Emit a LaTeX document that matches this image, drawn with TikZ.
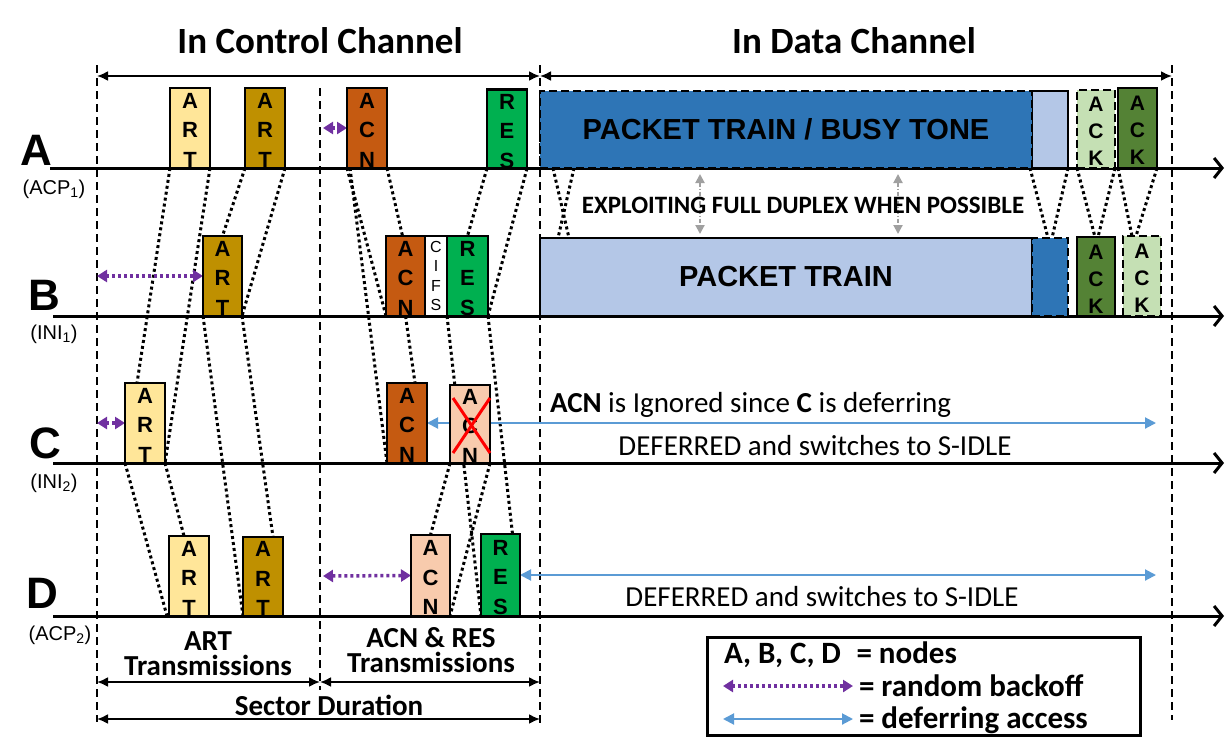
\documentclass[tikz,border=0pt]{standalone}
\usepackage{fontspec}
\setmainfont{Carlito}
\newfontfamily\arialf{Liberation Sans}
\usetikzlibrary{arrows.meta,calc}
\definecolor{artL}{HTML}{FFE699}
\definecolor{artD}{HTML}{BF9000}
\definecolor{acnD}{HTML}{C55A11}
\definecolor{acnL}{HTML}{F8CBAD}
\definecolor{resG}{HTML}{00B050}
\definecolor{ptD}{HTML}{2E75B6}
\definecolor{ptL}{HTML}{B4C7E7}
\definecolor{ackD}{HTML}{548235}
\definecolor{ackL}{HTML}{C5E0B4}
\definecolor{purp}{HTML}{7030A0}
\definecolor{bluA}{HTML}{5B9BD5}
\definecolor{grayA}{HTML}{A0A0A0}
\pgfdeclarelayer{bg}
\pgfsetlayers{bg,main}
\begin{document}
\begin{tikzpicture}[x=1pt,y=-1pt,
  every node/.style={inner sep=0pt,outer sep=0pt},
  tline/.style={line width=3pt,-{Straight Barb[length=8pt,width=20pt]}},
  vdash/.style={line width=2.5pt,dash pattern=on 8pt off 5pt},
  dotl/.style={line width=3pt,dash pattern=on 3pt off 3pt},
  dimarr/.style={line width=2pt,{Latex[length=11pt,width=10pt]}-{Latex[length=11pt,width=10pt]}},
  backoff/.style={purp,line width=3.5pt,dash pattern=on 3pt off 3pt,{Triangle[length=10pt,width=12pt]}-{Triangle[length=10pt,width=12pt]}},
  defer/.style={bluA,line width=2pt,{Triangle[length=11pt,width=11pt]}-{Triangle[length=11pt,width=11pt]}},
  fdarr/.style={grayA,line width=2pt,dash pattern=on 4pt off 2pt on 1pt off 2pt,{Triangle[length=9pt,width=9pt]}-{Triangle[length=9pt,width=9pt]}},
  pbox/.style={draw,line width=2.5pt,minimum width=40pt,minimum height=80pt,align=center,font=\arialf\bfseries\fontsize{22}{29.5}\selectfont},
  cifsbox/.style={draw,line width=2.5pt,minimum width=22pt,minimum height=80pt,align=center,font=\arialf\fontsize{16}{19.3}\selectfont},
  ackbox/.style={draw,line width=2.5pt,minimum width=38pt,minimum height=80pt,align=center,font=\arialf\bfseries\fontsize{21}{27}\selectfont},
  dbox/.style={dash pattern=on 8pt off 4pt},
  rowlab/.style={font=\arialf\bfseries\fontsize{44}{44}\selectfont,anchor=base},
  sublab/.style={font=\arialf\fontsize{20}{20}\selectfont},
  title/.style={font=\bfseries\fontsize{37}{37}\selectfont,anchor=base},
  btxt/.style={font=\bfseries\fontsize{29}{25}\selectfont,align=center},
  ntxt/.style={font=\fontsize{29}{29}\selectfont,anchor=base},
  legtxt/.style={font=\bfseries\fontsize{31}{31}\selectfont,anchor=base west}
]
\useasboundingbox (0,0) rectangle (1230,750);

% ---------- boxes: control channel ----------
\node[pbox,fill=artL] (aART1) at (190,128) {\rule{0pt}{19.5pt}A\\R\\T};
\node[pbox,fill=artD] (aART2) at (265,128) {\rule{0pt}{19.5pt}A\\R\\T};
\node[pbox,fill=acnD] (aACN) at (367,128) {\rule{0pt}{19.5pt}A\\C\\N};
\node[pbox,fill=resG,minimum height=78pt] (aRES) at (507,129) {\rule{0pt}{19.5pt}R\\E\\S};

\node[pbox,fill=artD,minimum width=39pt] (bART) at (222.5,276) {\rule{0pt}{19.5pt}A\\R\\T};
\node[pbox,fill=acnD,minimum width=39pt] (bACN) at (405.5,276) {\rule{0pt}{19.5pt}A\\C\\N};
\node[cifsbox,fill=white] (bCIFS) at (436,276) {C\\I\\F\\S};
\node[pbox,fill=resG,minimum width=41pt] (bRES) at (467.5,276) {\rule{0pt}{19.5pt}R\\E\\S};

\node[pbox,fill=artL] (cART) at (145,423) {\rule{0pt}{19.5pt}A\\R\\T};
\node[pbox,fill=acnD] (cACN) at (407,423) {\rule{0pt}{19.5pt}A\\C\\N};
\node[pbox,fill=acnL,minimum height=78pt] (cACNx) at (470,424) {\rule{0pt}{19.5pt}A\\C\\N};
\draw[red,line width=3pt] ($(cACNx.center)+(-17,-26)$) -- ($(cACNx.center)+(20,29)$);
\draw[red,line width=3pt] ($(cACNx.center)+(20,-26)$) -- ($(cACNx.center)+(-17,29)$);

\node[pbox,fill=artL] (dART1) at (189,576) {\rule{0pt}{19.5pt}A\\R\\T};
\node[pbox,fill=artD,minimum height=79pt] (dART2) at (263,576.5) {\rule{0pt}{19.5pt}A\\R\\T};
\node[pbox,fill=acnL,minimum width=39pt,minimum height=81pt] (dACN) at (430.5,575.5) {\rule{0pt}{19.5pt}A\\C\\N};
\node[pbox,fill=resG,minimum width=39pt,minimum height=82pt] (dRES) at (500.5,575) {\rule{0pt}{19.5pt}R\\E\\S};

% ---------- boxes: data channel ----------
\node[draw,line width=2.5pt,fill=ptL,minimum width=36pt,minimum height=77pt] (aPTl) at (1050,129.5) {};
\node[draw,dbox,line width=2.5pt,fill=ptD,minimum width=492pt,minimum height=77pt,font=\arialf\bfseries\fontsize{29}{29}\selectfont] (aPT) at (786,129.5) {PACKET TRAIN / BUSY TONE};
\node[ackbox,dbox,fill=ackL,minimum height=78pt] (aACK1) at (1096,129) {\rule{0pt}{19pt}A\\C\\K};
\node[ackbox,fill=ackD,minimum width=39pt] (aACK2) at (1137.5,128) {\rule{0pt}{19pt}A\\C\\K};

\node[draw,line width=2.5pt,fill=ptL,minimum width=492pt,minimum height=78pt,font=\arialf\bfseries\fontsize{29}{29}\selectfont] (bPT) at (786,277) {PACKET TRAIN};
\node[draw,dbox,line width=2.5pt,fill=ptD,minimum width=36pt,minimum height=78pt] (bPTd) at (1050,277) {};
\node[ackbox,fill=ackD,minimum height=79pt] (bACK1) at (1096,276.5) {\rule{0pt}{19pt}A\\C\\K};
\node[ackbox,dbox,fill=ackL] (bACK2) at (1142,276) {\rule{0pt}{19pt}A\\C\\K};

% ---------- labels ----------
\node[rowlab] (labA) at (36,165) {A};
\node[sublab] (subA) at (54,189) {(ACP\textsubscript{1})};
\node[rowlab] (labB) at (44,310) {B};
\node[sublab] (subB) at (54,334) {(INI\textsubscript{1})};
\node[rowlab] (labC) at (45,458) {C};
\node[sublab] (subC) at (54,483) {(INI\textsubscript{2})};
\node[rowlab] (labD) at (42,608) {D};
\node[sublab] (subD) at (60,635) {(ACP\textsubscript{2})};

\node[title] (tCtrl) at (320,53) {In Control Channel};
\node[title] (tData) at (854,53) {In Data Channel};

\node[font=\bfseries\fontsize{25}{25}\selectfont] (fdtxt) at (803,205) {EXPLOITING FULL DUPLEX WHEN POSSIBLE};

\node[ntxt,anchor=base west] (ignTxt) at (550,412) {\textbf{ACN} is Ignored since \textbf{C} is deferring};
\node[ntxt] (defC) at (815,455) {DEFERRED and switches to S-IDLE};
\node[ntxt] (defD) at (822,606) {DEFERRED and switches to S-IDLE};

\node[btxt,anchor=base] (artT) at (208,675) {ART\\Transmissions};
\node[btxt,anchor=base] (acnT) at (431,672) {ACN \& RES\\Transmissions};
\node[btxt,anchor=base] (secT) at (329,715) {Sector Duration};

% legend
\node[draw,line width=3pt,minimum width=433pt,minimum height=98pt] (leg) at (923.5,686) {};
\node[legtxt] (legN) at (724,663) {A, B, C, D\enspace= nodes};
\node[legtxt] (legR) at (859,696) {= random backoff};
\node[legtxt] (legD) at (859,728) {= deferring access};
\coordinate (lp1) at (723,686);
\coordinate (lp2) at (853,686);
\coordinate (lb1) at (723,719);
\coordinate (lb2) at (853,719);
\draw[backoff] (lp1) -- (lp2);
\draw[defer] (lb1) -- (lb2);

% ---------- background layer ----------
\begin{pgfonlayer}{bg}
% vertical dashed lines
\coordinate (v1t) at (97,65);   \coordinate (v1b) at (97,722);
\coordinate (v2t) at (320,88);  \coordinate (v2b) at (320,690);
\coordinate (v3t) at (540,65);  \coordinate (v3b) at (540,723);
\coordinate (v4t) at (1172,65); \coordinate (v4b) at (1172,720);
\draw[vdash] (v1t) -- (v1b);
\draw[vdash] (v2t) -- (v2b);
\draw[vdash] (v3t) -- (v3b);
\draw[vdash] (v4t) -- (v4b);

% time lines
\coordinate (A0) at (50,168);  \coordinate (A1) at (1224,168);
\coordinate (B0) at (53,316);  \coordinate (B1) at (1224,316);
\coordinate (C0) at (53,463);  \coordinate (C1) at (1224,463);
\coordinate (D0) at (53,616);  \coordinate (D1) at (1224,616);
\draw[tline] (A0) -- (A1);
\draw[tline] (B0) -- (B1);
\draw[tline] (C0) -- (C1);
\draw[tline] (D0) -- (D1);

% dimension arrows
\coordinate (dl) at (97,76); \coordinate (dm) at (540,76); \coordinate (dr) at (1172,76);
\draw[dimarr] (dl) -- (dm);
\draw[dimarr] (dm) -- (dr);
\coordinate (el) at (97,682); \coordinate (em) at (320,682); \coordinate (er) at (540,682);
\draw[dimarr] (el) -- (em);
\draw[dimarr] (em) -- (er);
\coordinate (sl) at (97,719); \coordinate (sr) at (540,719);
\draw[dimarr] (sl) -- (sr);

% dotted propagation lines, control channel
\draw[dotl] (aART1.south west) -- ([xshift=12pt]cART.north west);
\draw[dotl] (aART1.south east) -- (cART.south east);
\draw[dotl] (aART2.south west) -- (bART.north);
\draw[dotl] (aART2.south east) -- (bART.south east);
\draw[dotl] (bART.south west) -- (dART2.south west);
\draw[dotl] (bART.south east) -- ([xshift=10pt]dART2.north);
\draw[dotl] (cART.south west) -- ([xshift=-2pt]dART1.south west);
\draw[dotl] (cART.south east) -- ([xshift=-5pt]dART1.north);
\draw[dotl] (aACN.south west) -- (bACN.south west);
\draw[dotl] ([xshift=3pt]aACN.south west) -- (cACN.south west);
\draw[dotl] (aACN.south east) -- ([xshift=-3pt]bACN.north);
\draw[dotl] (aRES.south west) -- (bRES.north);
\draw[dotl] (aRES.south east) -- (bRES.south east);
\draw[dotl] (bACN.south) -- ([xshift=8pt]cACN.north);
\draw[dotl] (bRES.south west) -- (dRES.south west);
\draw[dotl] (bRES.south east) -- ([xshift=12pt]dRES.north);
\draw[dotl] (cACNx.south west) -- (dACN.north);
\draw[dotl] (cACNx.south east) -- (dACN.south east);

% dotted propagation lines, data channel
\draw[dotl] ([xshift=13pt]aPT.south west) -- ([xshift=29pt]bPT.north west);
\draw[dotl] ([xshift=34pt]aPT.south west) -- ([xshift=18pt]bPT.north west);
\draw[dotl] ([xshift=-2pt]aPTl.south west) -- ([xshift=-2pt]bPTd.north);
\draw[dotl] (aPTl.south east) -- ([xshift=2pt]bPTd.north);
\draw[dotl] (aACK1.south west) -- ([xshift=-1pt]bACK1.north);
\draw[dotl] (aACK1.south east) -- ([xshift=2pt]bACK1.north);
\draw[dotl] (aACK2.south west) -- ([xshift=-10pt]bACK2.north);
\draw[dotl] (aACK2.south east) -- ([xshift=-6pt]bACK2.north);

% full duplex arrows
\coordinate (g1t) at (700,174); \coordinate (g1b) at (700,234);
\coordinate (g2t) at (898,174); \coordinate (g2b) at (898,234);
\draw[fdarr] (g1t) -- (g1b);
\draw[fdarr] (g2t) -- (g2b);

% backoff arrows
\coordinate (pA) at (323,128);
\coordinate (pB) at (97,276);
\coordinate (pC) at (97,423);
\coordinate (pD) at (323,576);
\draw[backoff] (pA) -- (aACN.west);
\draw[backoff] (pB) -- (bART.west);
\draw[backoff] (pC) -- (cART.west);
\draw[backoff] (pD) -- (dACN.west);

% deferring arrows
\coordinate (cdefR) at (1156,423);
\coordinate (ddefR) at (1156,575);
\draw[defer] (cACN.east) -- (cdefR);
\draw[defer] (dRES.east) -- (ddefR);
\end{pgfonlayer}
\end{tikzpicture}
\end{document}
